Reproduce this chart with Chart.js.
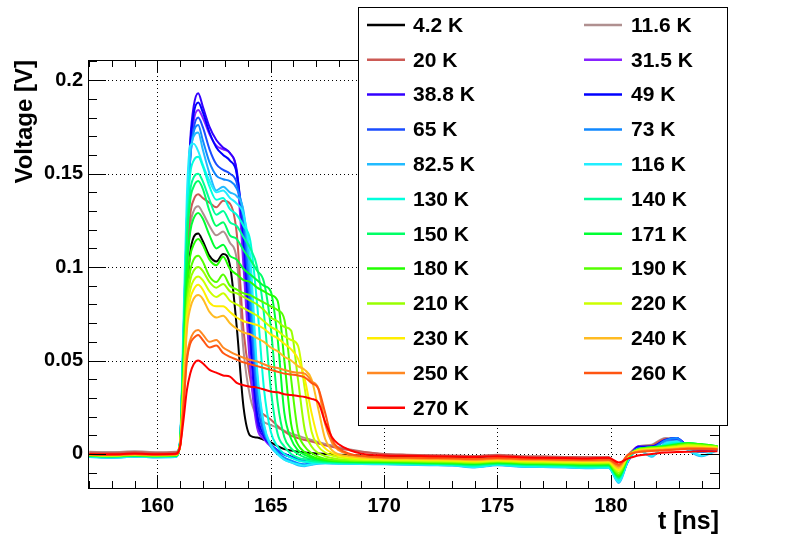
<!DOCTYPE html>
<html><head><meta charset="utf-8">
<script src="https://cdn.jsdelivr.net/npm/chart.js@4/dist/chart.umd.min.js"></script>
<style>html,body{margin:0;padding:0;background:#fff;}#wrap{width:786px;height:540px;}</style>
</head><body><div id="wrap"><canvas id="c" width="786" height="540"></canvas></div>
<script>
// time samples [ns]
const times = [157,158,159,160,160.8,161.0,161.15,161.3,161.45,161.6,161.8,162.0,162.3,162.6,162.9,163.2,163.5,163.8,164.1,164.4,164.7,165.0,165.3,165.6,165.9,166.2,166.5,166.8,167.1,167.4,167.7,168.0,168.5,169,170,171,172,173,174,175,176,177,178,179,179.9,180.35,180.75,181.2,181.8,182.4,182.9,183.4,184.0,184.7];
const labels = ['4.2 K','11.6 K','20 K','31.5 K','38.8 K','49 K','65 K','73 K','82.5 K','116 K','130 K','140 K','150 K','171 K','180 K','190 K','210 K','220 K','230 K','240 K','250 K','260 K','270 K'];
const colors = ['#000000','#b09090','#cc5a55','#8822ff','#3300ff','#0000ff','#1a4dff','#1188ff','#22bbff','#22eeff','#00ffdd','#00ff99','#00ff66','#00ff33','#22ff00','#55ff00','#99ff00','#ccff00','#ffee00','#ffbb22','#ff8822','#ff5511','#ff0000'];
const xTicks = [160,165,170,175,180];
const xTickLabels = ['160','165','170','175','180'];
const yTicks = [0,0.05,0.1,0.15,0.2];
const yTickLabels = ['0','0.05','0.1','0.15','0.2'];

// Voltage [V] per series
const v4_2 = [0.0000,-0.0003,0.0002,-0.0002,0.0000, 0.005,0.040,0.085,0.108,0.116,0.118, 0.114,0.106,0.103,0.107,0.101,0.068,0.025,0.0098,0.0088,0.0076,0.0062,0.0042,0.0026,0.0018,0.0012,0.0008,0.0005,0.0002,0.0000,-0.0002,-0.0004,-0.0006,-0.0008, -0.0010,-0.0012,-0.0013,-0.0015,-0.0016,-0.0010,-0.0017,-0.0019,-0.0021,-0.0022, -0.0024,-0.0060,-0.0020,0.0025,0.0045,0.0075,0.0070,0.0040,0.0030,0.0028];
const v11_6 = [0.0012,0.0010,0.0014,0.0009,0.0012, 0.005,0.045,0.095,0.122,0.130,0.1325, 0.129,0.122,0.117,0.119,0.113,0.104,0.055,0.030,0.020,0.017,0.0155,0.014,0.0125,0.011,0.0098,0.0086,0.0075,0.0064,0.0054,0.0045,0.0036,0.0024,0.0014, 0.0000,-0.0005,-0.0007,-0.0009,-0.0011,-0.0004,-0.0012,-0.0014,-0.0016,-0.0017, -0.0018,-0.0065,-0.0005,0.0040,0.0050,0.0085,0.0082,0.0045,0.0030,0.0030];
const v20 = [0.0008,0.0005,0.0010,0.0006,0.0008, 0.005,0.048,0.100,0.128,0.136,0.139, 0.137,0.1345,0.132,0.1355,0.134,0.118,0.066,0.040,0.025,0.021,0.0185,0.015,0.012,0.0098,0.0085,0.0075,0.0066,0.0056,0.0046,0.0038,0.0030,0.0020,0.0012, 0.0000,-0.0004,-0.0007,-0.0009,-0.0011,-0.0005,-0.0012,-0.0014,-0.0016,-0.0017, -0.0018,-0.0070,-0.0008,0.0035,0.0045,0.0080,0.0076,0.0045,0.0030,0.0030];
const v31_5 = [-0.0012,-0.0015,-0.0010,-0.0014,-0.0012, 0.006,0.058,0.120,0.160,0.178,0.184, 0.180,0.171,0.165,0.163,0.161,0.150,0.100,0.045,0.014,0.008,0.004,0.0015,-0.0005,-0.0015,-0.0025,-0.0030,-0.0032,-0.0034,-0.0035,-0.0036,-0.0037,-0.0038,-0.0040, -0.0042,-0.0044,-0.0046,-0.0048,-0.0052,-0.0045,-0.0052,-0.0054,-0.0056,-0.0058, -0.0060,-0.0125,-0.0030,0.0040,0.0035,0.0070,0.0080,0.0035,0.0025,0.0025];
const v38_8 = [-0.0013,-0.0016,-0.0011,-0.0015,-0.0012, 0.006,0.062,0.125,0.168,0.186,0.193, 0.186,0.175,0.168,0.164,0.161,0.152,0.112,0.058,0.018,0.009,0.005,0.002,0.0000,-0.0015,-0.0025,-0.0032,-0.0035,-0.0036,-0.0037,-0.0038,-0.0039,-0.0040,-0.0042, -0.0044,-0.0046,-0.0048,-0.0050,-0.0055,-0.0047,-0.0055,-0.0057,-0.0059,-0.0062, -0.0062,-0.0130,-0.0035,0.0040,0.0040,0.0075,0.0085,0.0040,0.0025,0.0025];
const v49 = [-0.0014,-0.0016,-0.0012,-0.0015,-0.0013, 0.006,0.060,0.123,0.165,0.182,0.188, 0.183,0.172,0.164,0.160,0.157,0.150,0.118,0.065,0.022,0.010,0.005,0.002,0.0000,-0.0015,-0.0028,-0.0035,-0.0038,-0.0040,-0.0041,-0.0042,-0.0043,-0.0044,-0.0045, -0.0047,-0.0049,-0.0051,-0.0053,-0.0058,-0.0050,-0.0058,-0.0060,-0.0063,-0.0066, -0.0066,-0.0135,-0.0040,0.0035,0.0040,0.0075,0.0085,0.0040,0.0025,0.0025];
const v65 = [-0.0015,-0.0017,-0.0013,-0.0016,-0.0014, 0.006,0.058,0.118,0.158,0.174,0.180, 0.175,0.163,0.155,0.152,0.150,0.145,0.122,0.075,0.028,0.011,0.005,0.002,-0.0002,-0.0018,-0.0032,-0.0040,-0.0042,-0.0044,-0.0045,-0.0046,-0.0047,-0.0048,-0.0049, -0.0050,-0.0052,-0.0054,-0.0056,-0.0062,-0.0054,-0.0062,-0.0064,-0.0067,-0.0070, -0.0070,-0.0140,-0.0040,0.0030,0.0035,0.0070,0.0080,0.0035,0.0020,0.0025];
const v73 = [-0.0015,-0.0018,-0.0014,-0.0017,-0.0015, 0.006,0.058,0.120,0.158,0.172,0.176, 0.168,0.156,0.149,0.147,0.146,0.142,0.128,0.085,0.035,0.013,0.005,0.001,-0.0020,-0.0035,-0.0050,-0.0055,-0.0050,-0.0048,-0.0048,-0.0049,-0.0050,-0.0051,-0.0052, -0.0053,-0.0055,-0.0058,-0.0060,-0.0068,-0.0058,-0.0066,-0.0068,-0.0070,-0.0074, -0.0072,-0.0145,-0.0040,0.0030,0.0030,0.0072,0.0085,0.0030,0.0010,0.0022];
const v82_5 = [-0.0016,-0.0020,-0.0015,-0.0018,-0.0016, 0.006,0.060,0.125,0.160,0.170,0.172, 0.163,0.150,0.141,0.143,0.140,0.138,0.130,0.095,0.042,0.015,0.004,0.000,-0.0030,-0.0045,-0.0060,-0.0065,-0.0058,-0.0052,-0.0050,-0.0051,-0.0052,-0.0053,-0.0054, -0.0055,-0.0057,-0.0060,-0.0062,-0.0072,-0.0060,-0.0068,-0.0070,-0.0072,-0.0076, -0.0074,-0.0155,-0.0040,0.0025,-0.0015,0.0060,0.0070,0.0020,-0.0012,0.0020];
const v116 = [-0.0016,-0.0019,-0.0015,-0.0018,-0.0016, 0.007,0.070,0.138,0.165,0.166,0.162, 0.155,0.146,0.140,0.141,0.137,0.134,0.128,0.105,0.045,0.016,0.005,0.000,-0.0030,-0.0045,-0.0055,-0.0062,-0.0055,-0.0050,-0.0049,-0.0050,-0.0051,-0.0052,-0.0053, -0.0054,-0.0056,-0.0058,-0.0060,-0.0070,-0.0058,-0.0066,-0.0068,-0.0070,-0.0074, -0.0072,-0.0150,-0.0035,0.0020,-0.0010,0.0055,0.0065,0.0025,-0.0008,0.0022];
const v130 = [-0.0012,-0.0015,-0.0011,-0.0014,-0.0012, 0.007,0.062,0.125,0.150,0.157,0.159, 0.154,0.143,0.136,0.137,0.131,0.128,0.122,0.114,0.080,0.035,0.012,0.004,0.000,-0.0020,-0.0035,-0.0042,-0.0045,-0.0046,-0.0047,-0.0048,-0.0049,-0.0050,-0.0050, -0.0051,-0.0053,-0.0055,-0.0057,-0.0064,-0.0055,-0.0062,-0.0064,-0.0066,-0.0070, -0.0068,-0.0140,-0.0030,0.0025,0.0030,0.0050,0.0060,0.0050,0.0040,0.0035];
const v140 = [-0.0011,-0.0014,-0.0010,-0.0013,-0.0011, 0.006,0.058,0.118,0.141,0.148,0.150, 0.146,0.136,0.128,0.130,0.124,0.122,0.116,0.110,0.100,0.075,0.035,0.011,0.004,0.000,-0.0020,-0.0030,-0.0038,-0.0042,-0.0044,-0.0045,-0.0046,-0.0047,-0.0048, -0.0049,-0.0051,-0.0053,-0.0055,-0.0060,-0.0052,-0.0058,-0.0060,-0.0062,-0.0066, -0.0064,-0.0130,-0.0025,0.0025,0.0035,0.0045,0.0055,0.0058,0.0050,0.0040];
const v150 = [-0.0010,-0.0013,-0.0009,-0.0012,-0.0010, 0.006,0.055,0.112,0.136,0.143,0.146, 0.142,0.130,0.122,0.124,0.117,0.115,0.109,0.104,0.098,0.092,0.068,0.028,0.009,0.003,0.000,-0.0018,-0.0028,-0.0035,-0.0039,-0.0041,-0.0043,-0.0044,-0.0045, -0.0046,-0.0048,-0.0050,-0.0052,-0.0056,-0.0049,-0.0054,-0.0056,-0.0058,-0.0062, -0.0060,-0.0125,-0.0022,0.0025,0.0035,0.0042,0.0052,0.0058,0.0050,0.0040];
const v171 = [-0.0009,-0.0012,-0.0008,-0.0011,-0.0009, 0.005,0.048,0.098,0.119,0.126,0.129, 0.126,0.117,0.110,0.112,0.106,0.104,0.099,0.096,0.093,0.090,0.087,0.062,0.022,0.008,0.002,-0.0005,-0.0020,-0.0030,-0.0035,-0.0038,-0.0040,-0.0041,-0.0042, -0.0043,-0.0045,-0.0047,-0.0049,-0.0053,-0.0046,-0.0051,-0.0053,-0.0055,-0.0058, -0.0057,-0.0120,-0.0020,0.0025,0.0035,0.0040,0.0050,0.0058,0.0052,0.0042];
const v180 = [-0.0008,-0.0011,-0.0007,-0.0010,-0.0008, 0.005,0.042,0.088,0.106,0.112,0.115, 0.112,0.104,0.101,0.1055,0.099,0.096,0.093,0.092,0.089,0.087,0.085,0.082,0.050,0.016,0.005,0.001,-0.0012,-0.0025,-0.0032,-0.0036,-0.0038,-0.0039,-0.0040, -0.0041,-0.0043,-0.0045,-0.0047,-0.0050,-0.0044,-0.0049,-0.0051,-0.0053,-0.0055, -0.0054,-0.0115,-0.0018,0.0025,0.0035,0.0040,0.0048,0.0056,0.0052,0.0042];
const v190 = [-0.0007,-0.0010,-0.0006,-0.0009,-0.0007, 0.005,0.040,0.082,0.098,0.104,0.106, 0.103,0.095,0.092,0.096,0.090,0.088,0.086,0.085,0.083,0.081,0.079,0.077,0.072,0.040,0.012,0.004,0.0005,-0.0015,-0.0025,-0.0032,-0.0035,-0.0037,-0.0038, -0.0039,-0.0041,-0.0043,-0.0045,-0.0048,-0.0042,-0.0047,-0.0049,-0.0051,-0.0053, -0.0052,-0.0110,-0.0016,0.0025,0.0032,0.0038,0.0046,0.0054,0.0050,0.0040];
const v210 = [-0.0006,-0.0009,-0.0005,-0.0008,-0.0006, 0.005,0.038,0.078,0.093,0.098,0.100, 0.098,0.092,0.089,0.091,0.087,0.086,0.084,0.082,0.080,0.077,0.073,0.071,0.068,0.066,0.040,0.013,0.004,0.0005,-0.0012,-0.0022,-0.0028,-0.0032,-0.0034, -0.0036,-0.0038,-0.0040,-0.0042,-0.0045,-0.0039,-0.0044,-0.0046,-0.0048,-0.0050, -0.0048,-0.0100,-0.0014,0.0022,0.0030,0.0035,0.0042,0.0050,0.0046,0.0038];
const v220 = [-0.0005,-0.0008,-0.0004,-0.0007,-0.0005, 0.005,0.036,0.074,0.088,0.093,0.095, 0.093,0.087,0.084,0.086,0.082,0.080,0.078,0.076,0.074,0.071,0.068,0.066,0.063,0.061,0.058,0.035,0.012,0.004,0.0008,-0.0008,-0.0018,-0.0025,-0.0029, -0.0032,-0.0034,-0.0036,-0.0038,-0.0041,-0.0036,-0.0040,-0.0042,-0.0044,-0.0046, -0.0044,-0.0090,-0.0012,0.0020,0.0028,0.0032,0.0038,0.0045,0.0042,0.0035];
const v230 = [-0.0004,-0.0007,-0.0003,-0.0006,-0.0004, 0.005,0.034,0.070,0.083,0.088,0.0905, 0.088,0.081,0.079,0.079,0.076,0.073,0.071,0.070,0.069,0.067,0.064,0.062,0.059,0.056,0.051,0.040,0.022,0.008,0.003,0.0005,-0.0008,-0.0018,-0.0024, -0.0028,-0.0030,-0.0032,-0.0034,-0.0037,-0.0032,-0.0036,-0.0038,-0.0040,-0.0042, -0.0040,-0.0085,-0.0010,0.0018,0.0025,0.0030,0.0035,0.0040,0.0038,0.0032];
const v240 = [-0.0003,-0.0006,-0.0002,-0.0005,-0.0003, 0.004,0.032,0.066,0.078,0.083,0.085, 0.083,0.076,0.073,0.074,0.070,0.067,0.065,0.064,0.062,0.060,0.057,0.055,0.052,0.050,0.047,0.045,0.040,0.024,0.008,0.002,-0.0002,-0.0012,-0.0019, -0.0024,-0.0026,-0.0028,-0.0030,-0.0033,-0.0028,-0.0032,-0.0034,-0.0036,-0.0038, -0.0036,-0.0075,-0.0008,0.0015,0.0022,0.0026,0.0030,0.0035,0.0034,0.0030];
const v250 = [-0.0002,-0.0005,-0.0001,-0.0004,-0.0002, 0.004,0.026,0.052,0.061,0.065,0.0664, 0.064,0.060,0.061,0.057,0.0548,0.053,0.0515,0.0503,0.0495,0.048,0.0467,0.046,0.045,0.044,0.0435,0.043,0.039,0.035,0.016,0.006,0.002,-0.0003,-0.0012, -0.0020,-0.0022,-0.0024,-0.0026,-0.0029,-0.0024,-0.0028,-0.0030,-0.0032,-0.0034, -0.0032,-0.0065,-0.0006,0.0012,0.0018,0.0022,0.0026,0.0030,0.0030,0.0027];
const v260 = [-0.0001,-0.0004,0.0000,-0.0003,-0.0001, 0.004,0.025,0.050,0.059,0.062,0.0637, 0.061,0.057,0.058,0.054,0.052,0.0505,0.049,0.048,0.047,0.046,0.045,0.044,0.043,0.0425,0.042,0.041,0.038,0.035,0.022,0.008,0.003,0.000,-0.0010, -0.0017,-0.0019,-0.0021,-0.0023,-0.0026,-0.0021,-0.0025,-0.0027,-0.0029,-0.0031, -0.0029,-0.0058,-0.0005,0.0010,0.0016,0.0020,0.0024,0.0028,0.0028,0.0025];
const v270 = [0.0000,-0.0002,0.0002,-0.0001,0.0001, 0.004,0.018,0.034,0.043,0.048,0.050, 0.0485,0.045,0.0435,0.042,0.0414,0.038,0.0368,0.036,0.0355,0.0345,0.0334,0.033,0.032,0.0316,0.031,0.0305,0.0295,0.0275,0.017,0.009,0.0052,0.0020,0.0002, -0.0008,-0.0010,-0.0012,-0.0014,-0.0016,-0.0012,-0.0018,-0.0020,-0.0022,-0.0024, -0.0020,-0.0045,-0.0025,-0.0008,0.0000,0.0008,0.0010,0.0012,0.0015,0.0015];

const seriesValues = [v4_2,v11_6,v20,v31_5,v38_8,v49,v65,v73,v82_5,v116,v130,v140,v150,v171,v180,v190,v210,v220,v230,v240,v250,v260,v270];

const FONT = "'Liberation Sans', Arial, Helvetica, sans-serif";

const gridPlugin = {
  id: 'rootFrame',
  beforeDatasetsDraw(chart) {
    const {ctx, chartArea: a, scales: {x, y}} = chart;
    ctx.save();
    ctx.strokeStyle = '#000'; ctx.lineWidth = 1; ctx.setLineDash([1, 3]);
    xTicks.forEach(v => { const px = Math.round(x.getPixelForValue(v)) + 0.5;
      ctx.beginPath(); ctx.moveTo(px, a.top); ctx.lineTo(px, a.bottom); ctx.stroke(); });
    yTicks.forEach(v => { const py = Math.round(y.getPixelForValue(v)) + 0.5;
      ctx.beginPath(); ctx.moveTo(a.left, py); ctx.lineTo(a.right, py); ctx.stroke(); });
    ctx.restore();
  },
  afterDatasetsDraw(chart) {
    const {ctx, chartArea: a, scales: {x, y}} = chart;
    ctx.save();
    ctx.strokeStyle = '#000'; ctx.lineWidth = 1; ctx.setLineDash([]);
    ctx.beginPath();
    for (let t = Math.ceil(x.min); t <= x.max; t++) {
      const major = xTicks.includes(t);
      const len = major ? 13 : 7;
      const px = Math.round(x.getPixelForValue(t)) + 0.5;
      ctx.moveTo(px, a.bottom); ctx.lineTo(px, a.bottom - len);
      ctx.moveTo(px, a.top); ctx.lineTo(px, a.top + len);
    }
    for (let k = Math.ceil(y.min / 0.01); k * 0.01 <= y.max + 1e-9; k++) {
      const v = k * 0.01;
      const major = k % 5 === 0;
      const len = major ? 18 : 9;
      const py = Math.round(y.getPixelForValue(v)) + 0.5;
      ctx.moveTo(a.left, py); ctx.lineTo(a.left + len, py);
      ctx.moveTo(a.right, py); ctx.lineTo(a.right - len, py);
    }
    ctx.stroke();
    ctx.strokeRect(Math.round(a.left) + 0.5, Math.round(a.top) + 0.5, Math.round(a.right - a.left), Math.round(a.bottom - a.top));
    ctx.restore();
  },
  afterDraw(chart) {
    const ctx = chart.ctx;
    ctx.save();
    const bx = 358, by = 7, bw = 369, bh = 418;
    ctx.fillStyle = '#fff'; ctx.fillRect(bx, by, bw, bh);
    ctx.strokeStyle = '#000'; ctx.lineWidth = 1; ctx.setLineDash([]);
    ctx.strokeRect(bx + 0.5, by + 0.5, bw, bh);
    ctx.font = 'bold 21px ' + FONT; ctx.textBaseline = 'middle'; ctx.textAlign = 'left';
    chart.data.datasets.forEach((ds, i) => {
      const row = Math.floor(i / 2), col = i % 2;
      const yy = 25 + row * 34.8;
      const x0 = col ? 584 : 367, x1 = col ? 622 : 405, tx = col ? 631 : 413;
      ctx.strokeStyle = ds.borderColor; ctx.lineWidth = 2.5;
      ctx.beginPath(); ctx.moveTo(x0, yy); ctx.lineTo(x1, yy); ctx.stroke();
      ctx.fillStyle = '#000';
      ctx.fillText(ds.label, tx, yy + 1);
    });
    ctx.restore();
  }
};

new Chart(document.getElementById('c'), {
  type: 'line',
  data: {
    datasets: seriesValues.map((vals, i) => ({
      label: labels[i],
      data: times.map((t, j) => ({x: t, y: vals[j]})),
      borderColor: colors[i], backgroundColor: colors[i],
      borderWidth: 2, pointRadius: 0, fill: false,
      cubicInterpolationMode: 'monotone', order: -i
    }))
  },
  options: {
    responsive: false, animation: false, devicePixelRatio: 1,
    layout: {padding: {left: 0, top: 60, right: 67, bottom: 0}},
    plugins: {legend: {display: false}, tooltip: {enabled: false}},
    scales: {
      x: {
        type: 'linear', min: 156.94, max: 184.77,
        afterBuildTicks: s => { s.ticks = xTicks.map(v => ({value: v})); },
        afterFit: s => { s.height = 52; },
        grid: {display: false, drawTicks: false, tickLength: 0}, border: {display: false},
        ticks: {autoSkip: false, maxRotation: 0, padding: 6, color: '#000',
          font: {family: FONT, size: 20, weight: 'bold'},
          callback: v => { const k = xTicks.indexOf(v); return k >= 0 ? xTickLabels[k] : ''; }},
        title: {display: true, text: 't [ns]', align: 'end', color: '#000',
          font: {family: FONT, size: 25, weight: 'bold'}, padding: {top: 0, bottom: 3}}
      },
      y: {
        type: 'linear', min: -0.0182, max: 0.2108,
        afterBuildTicks: s => { s.ticks = yTicks.map(v => ({value: v})); },
        afterFit: s => { s.width = 88; },
        grid: {display: false, drawTicks: false, tickLength: 0}, border: {display: false},
        ticks: {autoSkip: false, padding: 5, color: '#000',
          font: {family: FONT, size: 20, weight: 'bold'},
          callback: v => { const k = yTicks.findIndex(t => Math.abs(t - v) < 1e-9); return k >= 0 ? yTickLabels[k] : ''; }},
        title: {display: true, text: 'Voltage [V]', align: 'end', color: '#000',
          font: {family: FONT, size: 24, weight: 'bold'}, padding: {top: 11, bottom: 0}}
      }
    }
  },
  plugins: [gridPlugin]
});
</script></body></html>
